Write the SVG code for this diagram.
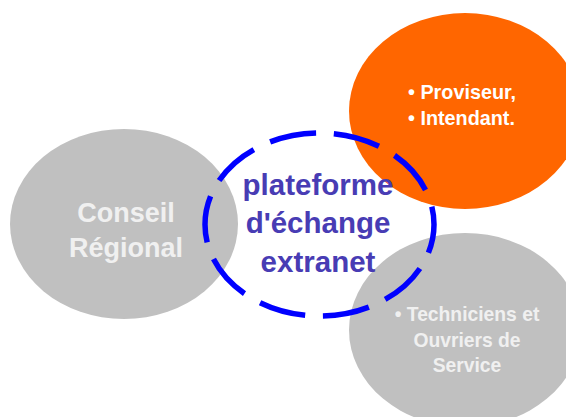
<svg xmlns="http://www.w3.org/2000/svg" width="566" height="417" viewBox="0 0 566 417">
<style>
text{font-family:"Liberation Sans",Arial,sans-serif;font-weight:bold}
.gray{fill:#c0c0c0}
.lt{fill:#f0f0f0}
.wt{fill:#ffffff}
.ctr{fill:#483cb4;font-size:29.5px}
</style>
<rect width="566" height="417" fill="#ffffff"/>
<g id="conseil">
<ellipse class="gray" cx="124" cy="224" rx="114" ry="95"/>
<text class="lt" x="126" y="222" font-size="27" text-anchor="middle">Conseil</text>
<text class="lt" x="126" y="257" font-size="27" text-anchor="middle">Régional</text>
</g>
<g id="direction">
<ellipse fill="#ff6600" cx="465" cy="111" rx="116" ry="98"/>
<text class="wt" x="408" y="99" font-size="19.8">• Proviseur,</text>
<text class="wt" x="408" y="125" font-size="19.8">• Intendant.</text>
</g>
<g id="techniciens">
<ellipse class="gray" cx="465" cy="330" rx="116" ry="97"/>
<text class="lt" x="467" y="321" font-size="19.3" text-anchor="middle">• Techniciens et</text>
<text class="lt" x="467" y="347" font-size="19.3" text-anchor="middle">Ouvriers de</text>
<text class="lt" x="467" y="372" font-size="19.3" text-anchor="middle">Service</text>
</g>
<g id="plateforme">
<ellipse cx="319.5" cy="224.5" rx="114.5" ry="91.5" fill="none" stroke="#0000ff" stroke-width="5.5" pathLength="650" stroke-dasharray="47 18" stroke-dashoffset="18"/>
<text class="ctr" x="318" y="195" text-anchor="middle">plateforme</text>
<text class="ctr" x="318" y="233" text-anchor="middle">d'échange</text>
<text class="ctr" x="318" y="272" text-anchor="middle">extranet</text>
</g>
<g id="connectors"></g>
</svg>
